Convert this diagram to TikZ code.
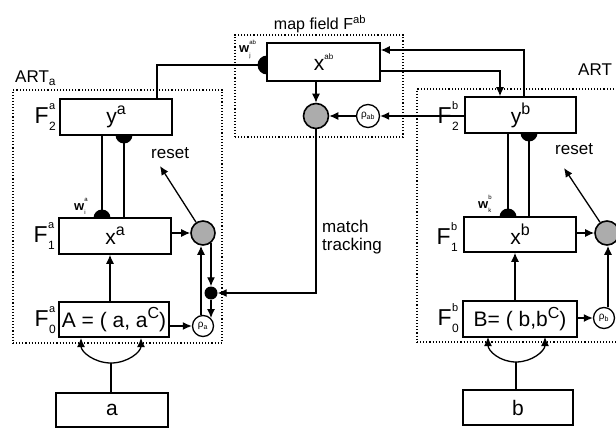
\documentclass[tikz,border=0pt]{standalone}
\usepackage{fontspec}
\setmainfont{Liberation Sans}
\usetikzlibrary{arrows.meta,calc}
\newcommand\sps[1]{\raisebox{0.42em}{\fontsize{16}{16}\selectfont #1}}
\newcommand\fl[2]{F\kern0.5pt\rlap{\raisebox{0.6em}{\fontsize{11}{11}\selectfont #1}}\raisebox{-0.3em}{\fontsize{12}{12}\selectfont #2}}
\newcommand\wl[2]{\textbf{w}\rlap{\raisebox{0.62em}{\fontsize{6}{6}\selectfont #2}}\raisebox{-0.35em}{\fontsize{6}{6}\selectfont #1}}
\tikzset{
 box/.style={draw, line width=1.5pt, fill=white, inner sep=0pt, font=\fontsize{21}{22}\selectfont},
 field/.style={draw, dotted, line width=1.1pt, inner sep=0pt},
 graydot/.style={circle, draw, line width=1.6pt, fill=gray!65, minimum size=24pt, inner sep=0pt},
 rhoc/.style={circle, draw, line width=1.3pt, fill=white, minimum size=21pt, inner sep=0pt, font=\fontsize{10}{10}\selectfont},
 junction/.style={circle, fill=black, minimum size=13pt, inner sep=0pt},
 arr/.style={line width=1.3pt, -{Latex[length=9pt,width=8pt]}},
 ln/.style={line width=1.3pt},
 lab/.style={font=\fontsize{17}{18}\selectfont, inner sep=0pt},
 flab/.style={font=\fontsize{23}{23}\selectfont, inner sep=0pt},
 wlab/.style={font=\fontsize{13}{13}\selectfont, inner sep=0pt},
}
\begin{document}
\begin{tikzpicture}[x=1pt,y=-1pt]
\useasboundingbox (0,0) rectangle (616,428);
\clip (0,0) rectangle (616,428);
% dotted fields
\node[field, minimum width=209pt, minimum height=253pt] (artA) at (117.5,216.5) {};
\node[field, minimum width=223pt, minimum height=253pt] (artB) at (528.5,215.5) {};
\node[field, minimum width=168pt, minimum height=102pt] (mapf) at (319,86) {};
% weight half-discs (boxes drawn on top hide the other half)
\fill (102,218) circle (8.5);
\fill (124,135) circle (8.5);
\fill (508,217) circle (8.5);
\fill (529,133) circle (8.5);
\fill (267,65) circle (9.5);
% boxes
\node[box, minimum width=112pt, minimum height=36pt] (F2a) at (116,117) {y\sps{a}};
\node[box, minimum width=112pt, minimum height=36pt] (F1a) at (115,236) {x\sps{a}};
\node[box, minimum width=110pt, minimum height=35pt] (F0a) at (114,319.5) {A = ( a, a\sps{C})};
\node[box, minimum width=112pt, minimum height=34pt] (inA) at (112,410) {a};
\node[box, minimum width=113pt, minimum height=38pt] (xab) at (323.5,62) {x\raisebox{0.5em}{\fontsize{8}{8}\selectfont ab}};
\node[box, minimum width=111pt, minimum height=36pt] (F2b) at (520.5,115) {y\sps{b}};
\node[box, minimum width=112pt, minimum height=35pt] (F1b) at (520,234.5) {x\sps{b}};
\node[box, minimum width=114pt, minimum height=36pt] (F0b) at (520,319) {B= ( b,b\sps{C})};
\node[box, minimum width=110pt, minimum height=35pt] (inB) at (518,407.5) {b};
% circles
\node[graydot] (grayA) at (203,233) {};
\node[rhoc] (rhoA) at (203,326) {ρ\textsubscript{a}};
\node[junction] (dotA) at (211,293) {};
\node[graydot, minimum size=25pt] (grayAB) at (316,116) {};
\node[rhoc, minimum size=23pt] (rhoAB) at (368,116) {ρ\textsubscript{ab}};
\node[graydot] (grayB) at (607,233) {};
\node[rhoc] (rhoB) at (604,318) {ρ\textsubscript{b}};
% field labels
\node[flab, anchor=east] (lF2a) at (56,117) {\fl{a}{2}};
\node[flab, anchor=east] (lF1a) at (55,236) {\fl{a}{1}};
\node[flab, anchor=east] (lF0a) at (56,320) {\fl{a}{0}};
\node[flab, anchor=east] (lF2b) at (459,116) {\fl{b}{2}};
\node[flab, anchor=east] (lF1b) at (458,237) {\fl{b}{1}};
\node[flab, anchor=east] (lF0b) at (459,318) {\fl{b}{0}};
% text labels
\node[lab, anchor=base west] (tArtA) at (15,83) {ART\textsubscript{a}};
\node[lab, anchor=base west] (tArtB) at (578,76) {ART};
\node[lab, font=\fontsize{16}{17}\selectfont, anchor=base] (tMap) at (320,30) {map field F\textsuperscript{ab}};
\node[lab, anchor=base west] (tResetA) at (151,158) {reset};
\node[lab, anchor=base west] (tResetB) at (555,154) {reset};
\node[lab, anchor=base west] (tMatch) at (322,232) {match};
\node[lab, anchor=base west] (tTrack) at (322,250) {tracking};
\node[wlab, anchor=base west] (wA) at (74,210) {\wl{i}{a}};
\node[wlab, anchor=base west] (wB) at (478,208) {\wl{k}{b}};
\node[wlab, anchor=base west] (wAB) at (239,53) {\wl{j}{ab}};
% coordinates
\coordinate (bA) at (111,363);
\coordinate (bB) at (516,362);
\coordinate (rA) at (160,166);
\coordinate (rB) at (564,168);
% ART_a connectors
\draw[arr] (F0a.north -| 110,0) -- (F1a.south -| 110,0);
\draw[ln] (bA |- inA.north) -- (bA);
\draw[arr] (bA) .. controls (94.5,363) and (81,352) .. (81,338);
\draw[arr] (bA) .. controls (127.5,363) and (141,352) .. (141,338);
\draw[ln] (F2a.south -| 102,0) -- (F1a.north -| 102,0);
\draw[ln] (F2a.south -| 124,0) -- (F1a.north -| 124,0);
\draw[arr] (F1a.east |- grayA.west) -- (grayA.west);
\draw[arr] (grayA.123) -- (rA);
\draw[arr] (F0a.east |- rhoA.west) -- (rhoA.west);
\draw[arr] (rhoA.north -| 201,0) -- (grayA.south -| 201,0);
\draw[arr] (grayA.310 -| dotA) -- (dotA.north);
\draw[arr] (dotA.south) -- (dotA |- rhoA.north east);
\draw[arr] (grayAB.south) |- (dotA.east);
% map field connectors
\draw[ln] (F2a.north -| 157,0) |- (xab.west |- 0,65);
\draw[arr] (xab.south -| grayAB) -- (grayAB.north);
\draw[arr] (rhoAB.west) -- (grayAB.east);
\draw[arr] (F2b.west |- rhoAB) -- (rhoAB.east);
\draw[arr] (F2b.north -| 524,0) |- (xab.east |- 0,50);
\draw[arr] (xab.east |- 0,71) -| (F2b.north -| 500,0);
% ART_b connectors
\draw[arr] (F0b.north -| 515,0) -- (F1b.south -| 515,0);
\draw[ln] (bB |- inB.north) -- (bB);
\draw[arr] (bB) .. controls (500,362) and (488,351) .. (488,337);
\draw[arr] (bB) .. controls (532,362) and (545,351) .. (545,337);
\draw[ln] (F2b.south -| 508,0) -- (F1b.north -| 508,0);
\draw[ln] (F2b.south -| 529,0) -- (F1b.north -| 529,0);
\draw[arr] (F1b.east |- grayB.west) -- (grayB.west);
\draw[arr] (grayB.123) -- (rB);
\draw[arr] (F0b.east |- rhoB.west) -- (rhoB.west);
\draw[arr] (rhoB.north -| 608,0) -- (grayB.south -| 608,0);
\end{tikzpicture}
\end{document}
